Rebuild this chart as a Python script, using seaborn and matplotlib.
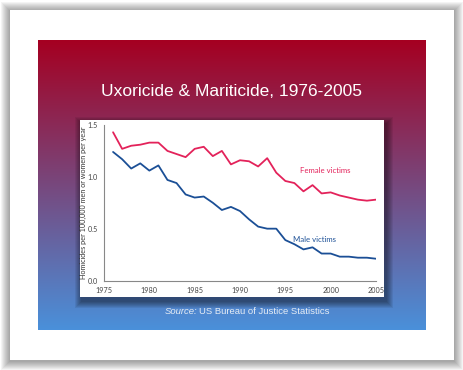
import numpy as np
import pandas as pd
import matplotlib.pyplot as plt
import matplotlib.colors as mcolors
from matplotlib.patches import Rectangle
import seaborn as sns

# data
years = list(range(1976, 2006))
female = [1.43, 1.27, 1.30, 1.31, 1.33, 1.33, 1.25, 1.22, 1.19, 1.27,
          1.29, 1.20, 1.25, 1.12, 1.16, 1.15, 1.10, 1.18, 1.04, 0.96,
          0.94, 0.86, 0.92, 0.84, 0.85, 0.82, 0.80, 0.78, 0.77, 0.78]
male = [1.24, 1.17, 1.08, 1.13, 1.06, 1.11, 0.97, 0.94, 0.83, 0.80,
        0.81, 0.75, 0.68, 0.71, 0.67, 0.59, 0.52, 0.50, 0.50, 0.39,
        0.35, 0.30, 0.32, 0.26, 0.26, 0.23, 0.23, 0.22, 0.22, 0.21]
xticks = [1975, 1980, 1985, 1990, 1995, 2000, 2005]
yticks = [0.0, 0.5, 1.0, 1.5]

title = "Uxoricide & Mariticide, 1976-2005"
ylabel = "Homicides per 100,000 men or women per year"

red = "#e3225a"
blue = "#1b4f96"

sns.set_style("white")
plt.rcParams['font.family'] = ['Lato', 'DejaVu Sans']

fig = plt.figure(figsize=(4.64, 3.70), dpi=100)

# background layer in pixel coordinates
bg = fig.add_axes([0, 0, 1, 1])
bg.set_xlim(0, 464)
bg.set_ylim(370, 0)
bg.axis('off')

# card shadow + card
for i in range(1, 10):
    bg.add_patch(Rectangle((10 - i, 11 - i), 444 + 2 * i, 350 + 2 * i,
                           color='black', alpha=0.045, lw=0, zorder=1))
bg.add_patch(Rectangle((10, 10), 444, 350, color='white', lw=0, zorder=2))

# gradient slide
top = np.array(mcolors.to_rgb("#a50021"))
bot = np.array(mcolors.to_rgb("#4a90da"))
t = np.linspace(0, 1, 256)[:, None]
grad = (top * (1 - t) + bot * t)[:, None, :]
bg.imshow(grad, extent=[38, 426, 330, 40], aspect='auto', zorder=3,
          interpolation='bilinear')

# chart panel shadow + panel
for i in range(1, 8):
    bg.add_patch(Rectangle((80 - i + 2, 120 - i + 4), 304 + 2 * i, 177 + 2 * i,
                           color='black', alpha=0.07, lw=0, zorder=4))
bg.add_patch(Rectangle((80, 120), 304, 177, color='white', lw=0, zorder=5))

bg.text(232, 92, title, color='white', fontsize=12.5, ha='center', va='center',
        family=['Liberation Sans', 'DejaVu Sans'], zorder=6)
bg.text(197, 312, "Source:", color='#e6edf5', fontsize=6.8, ha='right',
        va='center', style='italic', family=['Liberation Sans', 'DejaVu Sans'], zorder=6)
bg.text(199, 312, "US Bureau of Justice Statistics", color='#e6edf5', fontsize=6.8,
        ha='left', va='center', family=['Liberation Sans', 'DejaVu Sans'], zorder=6)

# chart
ax = fig.add_axes([104 / 464, (370 - 280.5) / 370, (376 - 104) / 464, (280.5 - 125) / 370])
ax.patch.set_alpha(0)

df = pd.DataFrame({"year": years, "Female": female, "Male": male})
sns.lineplot(data=df, x="year", y="Female", color=red, lw=1.3, ax=ax)
sns.lineplot(data=df, x="year", y="Male", color=blue, lw=1.3, ax=ax)

ax.set_xlim(1975, 2005)
ax.set_ylim(0, 1.5)
ax.set_xticks(xticks)
ax.set_yticks(yticks)
ax.set_xticklabels([str(x) for x in xticks])
ax.set_yticklabels([f"{v:.1f}" for v in yticks])
ax.set_xlabel("")
ax.set_ylabel(ylabel, fontsize=5.2, color='#333333')
ax.yaxis.set_label_coords(-17 / 272, 0.5)

sns.despine(ax=ax)
for s in ['left', 'bottom']:
    ax.spines[s].set_color('#888888')
    ax.spines[s].set_linewidth(0.8)
ax.tick_params(axis='x', direction='in', length=3, width=0.7, color='#888888',
               labelsize=5.2, labelcolor='#444444', pad=5)
ax.tick_params(axis='y', direction='out', length=3, width=0.7, color='#888888',
               labelsize=5.2, labelcolor='#444444', pad=1.5)

ax.text(1996.6, 1.06, "Female victims", color=red, fontsize=5.6, ha='left', va='center')
ax.text(1995.9, 0.40, "Male victims", color=blue, fontsize=5.6, ha='left', va='center')

fig.savefig("out.png", dpi=100)
